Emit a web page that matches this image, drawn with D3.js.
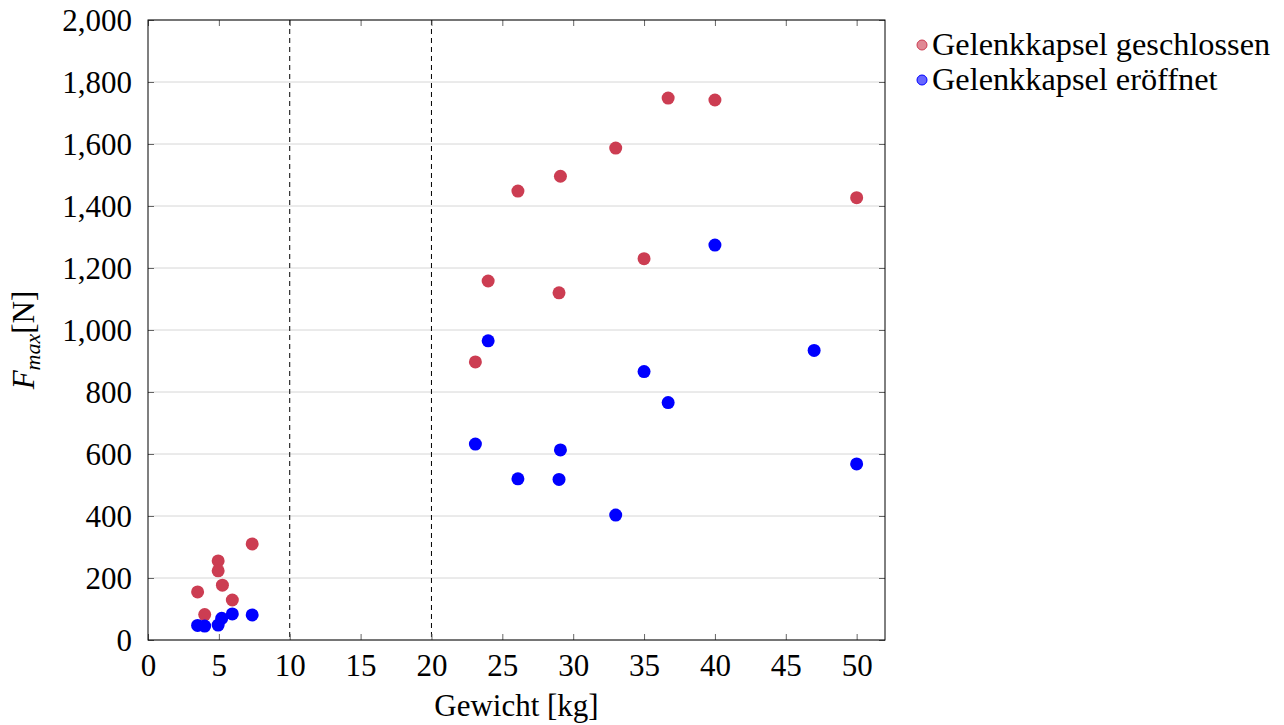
<!DOCTYPE html>
<html>
<head>
<meta charset="utf-8">
<script src="https://cdn.jsdelivr.net/npm/d3@7"></script>
<style>
    body { margin: 0; background: #fff; }
</style>
</head>
<body>
<div id="chart"></div>
<script>
// Gewicht [kg] vs. F_max [N]
const closedWeight = [3.5, 4.0, 4.95, 4.95, 5.25, 5.95, 7.35, 23.1, 24.0, 26.1, 29.0, 29.1, 33.0, 35.0, 36.7, 40.0, 50.0];
const closedForce  = [155, 82, 255, 223, 177, 129, 310, 897, 1158, 1448, 1120, 1496, 1587, 1230, 1748, 1742, 1427];

const openWeight = [3.5, 4.0, 4.95, 5.2, 5.95, 7.35, 23.1, 24.0, 26.1, 29.0, 29.1, 33.0, 35.0, 36.7, 40.0, 47.0, 50.0];
const openForce  = [47, 45, 48, 70, 84, 81, 632, 965, 520, 518, 613, 403, 866, 766, 1274, 934, 568];

const xTicks = [0, 5, 10, 15, 20, 25, 30, 35, 40, 45, 50];
const yTicks = [0, 200, 400, 600, 800, 1000, 1200, 1400, 1600, 1800, 2000];
const dashedAt = [10, 20];

const seriesNames = ['Gelenkkapsel geschlossen', 'Gelenkkapsel eröffnet'];

const FONT = "'Liberation Serif', 'Times New Roman', serif";

const width = 1284, height = 725;
const margin = { top: 20, right: 399, bottom: 85, left: 148 };
const innerW = width - margin.left - margin.right;
const innerH = height - margin.top - margin.bottom;

const svg = d3.select('#chart')
    .append('svg')
    .attr('width', width)
    .attr('height', height)
    .attr('font-family', FONT);

const g = svg.append('g')
    .attr('transform', `translate(${margin.left},${margin.top})`);

const x = d3.scaleLinear().domain([0, 52]).range([0, innerW]);
const y = d3.scaleLinear().domain([0, 2000]).range([innerH, 0]);

// horizontal grid
g.append('g')
    .selectAll('line')
    .data(yTicks)
    .enter().append('line')
    .attr('x1', 0).attr('x2', innerW)
    .attr('y1', d => y(d)).attr('y2', d => y(d))
    .attr('stroke', '#d6d6d6')
    .attr('stroke-width', 1);

// dashed reference lines
g.append('g')
    .selectAll('line')
    .data(dashedAt)
    .enter().append('line')
    .attr('x1', d => x(d)).attr('x2', d => x(d))
    .attr('y1', 0).attr('y2', innerH)
    .attr('stroke', '#000')
    .attr('stroke-width', 1)
    .attr('stroke-dasharray', '5,4');

// axes with inward ticks, labels only bottom / left
const tickLen = 6;
const fmt = d3.format(',');

const xBottom = g.append('g')
    .attr('transform', `translate(0,${innerH})`)
    .call(d3.axisBottom(x).tickValues(xTicks).tickSizeInner(-tickLen).tickSizeOuter(0).tickPadding(14));
const xTop = g.append('g')
    .call(d3.axisTop(x).tickValues(xTicks).tickSizeInner(-tickLen).tickSizeOuter(0).tickFormat(''));
const yLeft = g.append('g')
    .call(d3.axisLeft(y).tickValues(yTicks).tickSizeInner(-tickLen).tickSizeOuter(0).tickFormat(fmt).tickPadding(16));
const yRight = g.append('g')
    .attr('transform', `translate(${innerW},0)`)
    .call(d3.axisRight(y).tickValues(yTicks).tickSizeInner(-tickLen).tickSizeOuter(0).tickFormat(''));

[xBottom, xTop, yLeft, yRight].forEach(a => {
    a.attr('font-family', FONT).attr('font-size', 31);
    a.select('.domain').remove();
    a.selectAll('.tick line').attr('stroke', '#666').attr('stroke-width', 1);
    a.selectAll('.tick text').attr('fill', '#000');
});
xBottom.selectAll('.tick text').attr('dy', '0.71em');
yLeft.selectAll('.tick text').attr('dy', '0.34em');

// frame
g.append('rect')
    .attr('width', innerW).attr('height', innerH)
    .attr('fill', 'none')
    .attr('stroke', '#000')
    .attr('stroke-width', 1);

// points
const red = '#cc3d52', blue = '#0000ff';

g.append('g')
    .selectAll('circle')
    .data(closedWeight.map((w, i) => [w, closedForce[i]]))
    .enter().append('circle')
    .attr('cx', d => x(d[0]))
    .attr('cy', d => y(d[1]))
    .attr('r', 6.5)
    .attr('fill', red);

g.append('g')
    .selectAll('circle')
    .data(openWeight.map((w, i) => [w, openForce[i]]))
    .enter().append('circle')
    .attr('cx', d => x(d[0]))
    .attr('cy', d => y(d[1]))
    .attr('r', 6.5)
    .attr('fill', blue);

// axis titles
svg.append('text')
    .attr('x', margin.left + x(26))
    .attr('y', 716)
    .attr('text-anchor', 'middle')
    .attr('font-family', FONT)
    .attr('font-size', 31)
    .text('Gewicht [kg]');

const yTitle = svg.append('text')
    .attr('transform', `translate(34,${margin.top + innerH / 2 + 10}) rotate(-90)`)
    .attr('text-anchor', 'middle')
    .attr('font-family', FONT)
    .attr('font-size', 31);
yTitle.append('tspan').attr('font-style', 'italic').text('F');
yTitle.append('tspan').attr('font-style', 'italic').attr('font-size', 22).attr('dy', 6).text('max');
yTitle.append('tspan').attr('dy', -6).text('[N]');

// legend
const legend = svg.append('g').attr('transform', 'translate(922,45)');
const legendColors = [
    { fill: '#e08894', stroke: red },
    { fill: '#6666ff', stroke: blue }
];
seriesNames.forEach((name, i) => {
    const row = legend.append('g').attr('transform', `translate(0,${i * 35})`);
    row.append('circle')
        .attr('r', 5)
        .attr('fill', legendColors[i].fill)
        .attr('stroke', legendColors[i].stroke)
        .attr('stroke-width', 1);
    row.append('text')
        .attr('x', 10)
        .attr('y', 10)
        .attr('font-family', FONT)
        .attr('font-size', 32.3)
        .text(name);
});
</script>
</body>
</html>
